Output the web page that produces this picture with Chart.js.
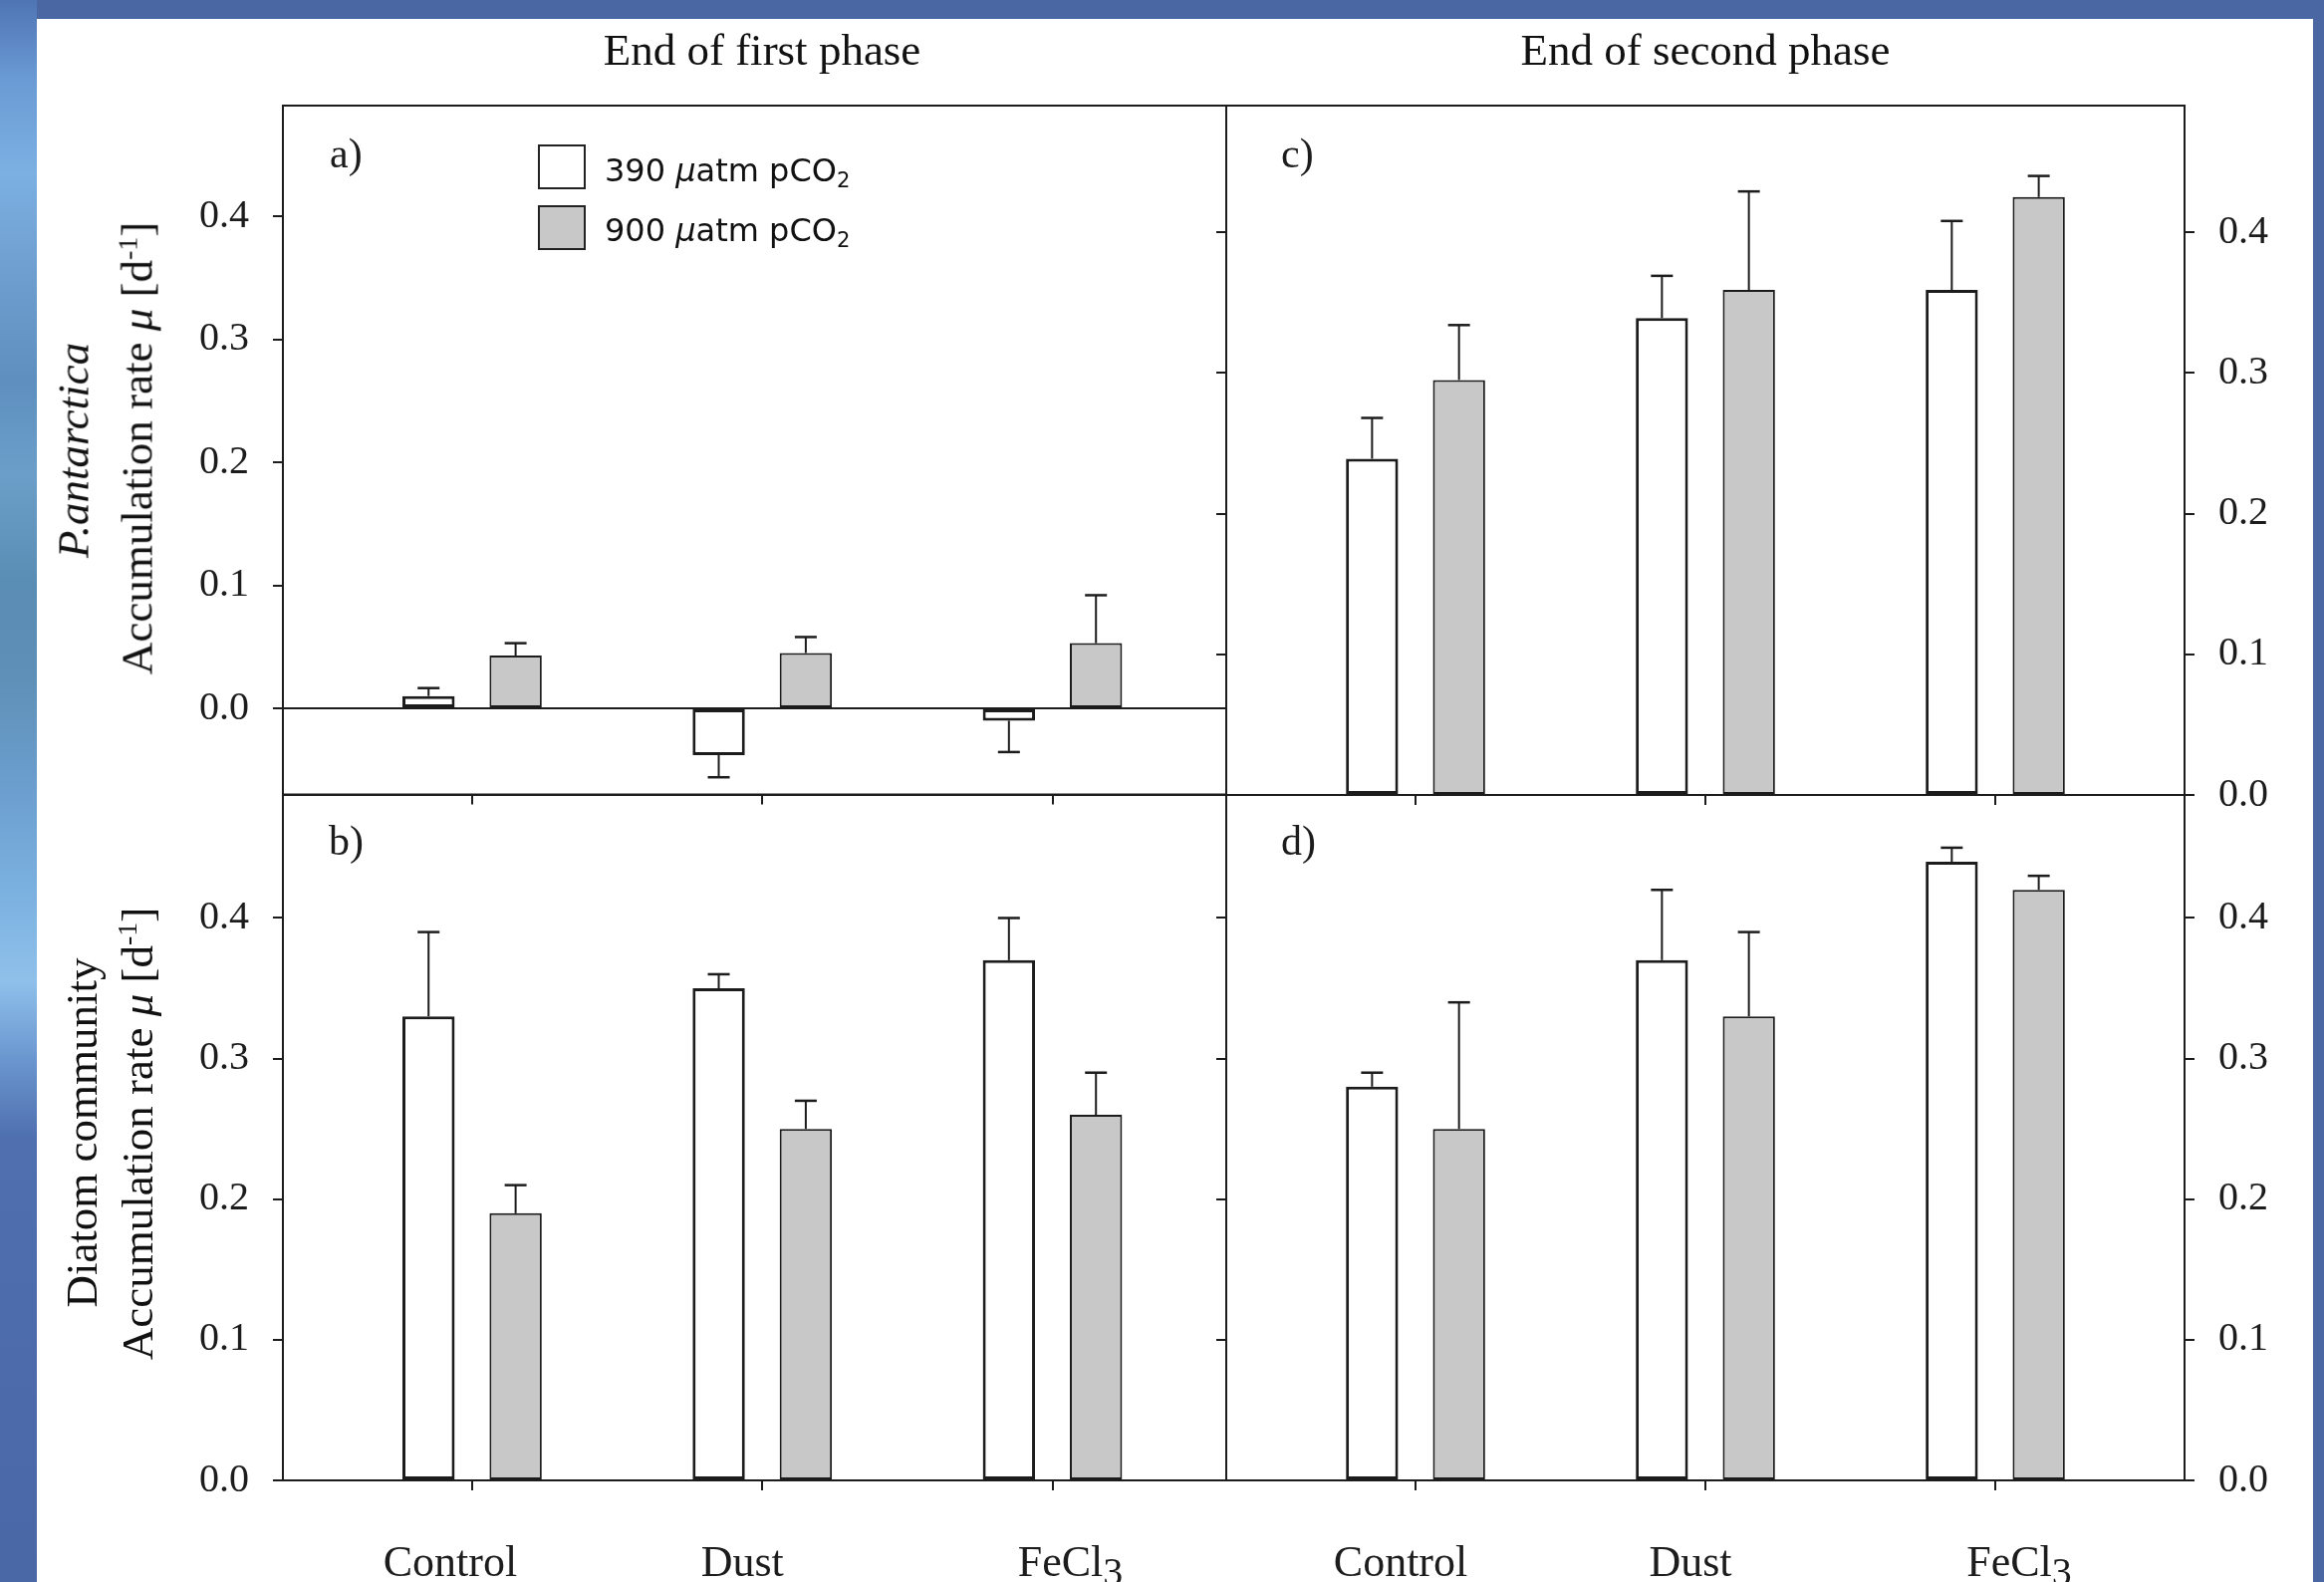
<!DOCTYPE html>
<html>
<head>
<meta charset="utf-8">
<title>Accumulation rates</title>
<script src="https://cdn.jsdelivr.net/npm/chart.js@4.4.1/dist/chart.umd.min.js"></script>
<style>
  html, body { margin: 0; padding: 0; }
  body { width: 2333px; height: 1588px; position: relative; overflow: hidden; background: #4a67a3; }
  #edge { position: absolute; left: 0; top: 0; width: 37px; height: 1588px;
    background: linear-gradient(180deg, #4f74b4 0%, #6a9bd4 5%, #7cb0e2 11%, #6f9fd0 17%, #5e8fbf 24%,
      #6b9fc9 30%, #5a8db3 37%, #5f90b8 43%, #6c9fcf 50%, #7ab0df 56%, #8fc0ea 62%, #6a96cf 67%,
      #4f6fae 72%, #4a67a6 100%); }
  #sheet { position: absolute; left: 37px; top: 19px; width: 2285px; height: 1569px; background: #fff; }
  canvas { position: absolute; left: 0; top: 0; }
  .txt { position: absolute; font-family: 'Liberation Serif', 'Times New Roman', serif; color: #111;
    white-space: nowrap; line-height: 1; }
  .head { font-size: 45px; transform: translateX(-50%); }
  .rot { font-size: 45px; transform: translate(-50%, -50%) rotate(-90deg); }
  .rot sup { font-size: 0.62em; vertical-align: 0.55em; line-height: 0; }
  .lg-box { position: absolute; left: 540px; width: 48px; height: 45px; box-sizing: border-box;
    border: 2px solid #222; }
  .lg-txt { position: absolute; left: 607px; font-family: 'DejaVu Sans', Verdana, sans-serif; font-size: 32px;
    line-height: 32px; color: #111; white-space: nowrap; }
  .lg-txt sub { font-size: 0.66em; vertical-align: -0.28em; line-height: 0; }
</style>
</head>
<body>
<div id="edge"></div>
<div id="sheet"></div>
<canvas id="pa" width="2333" height="1588"></canvas>
<canvas id="pb" width="2333" height="1588"></canvas>
<canvas id="pc" width="2333" height="1588"></canvas>
<canvas id="pd" width="2333" height="1588"></canvas>

<div class="txt head" style="left:765px;top:28px;">End of first phase</div>
<div class="txt head" style="left:1712px;top:28px;">End of second phase</div>

<div class="txt rot" style="left:74px;top:452px;font-style:italic;">P.antarctica</div>
<div class="txt rot" style="left:138px;top:450px;">Accumulation rate <i>μ</i> [d<sup>-1</sup>]</div>
<div class="txt rot" style="left:82px;top:1137px;">Diatom community</div>
<div class="txt rot" style="left:138px;top:1138px;">Accumulation rate <i>μ</i> [d<sup>-1</sup>]</div>

<div id="legend"></div>

<script>
// ---- data ---------------------------------------------------------------
const categories = ['Control', 'Dust', 'FeCl3'];
const co2Levels = [390, 900];               // µatm pCO2 of the two treatments
const yTicks = [0, 0.1, 0.2, 0.3, 0.4];

// a) P. antarctica, end of first phase
const pant1_390 = [0.010, -0.038, -0.010];
const pant1_390Err = [0.0065, 0.018, 0.0255];
const pant1_900 = [0.043, 0.045, 0.053];
const pant1_900Err = [0.010, 0.013, 0.039];

// c) P. antarctica, end of second phase
const pant2_390 = [0.239, 0.339, 0.359];
const pant2_390Err = [0.029, 0.030, 0.049];
const pant2_900 = [0.295, 0.359, 0.425];
const pant2_900Err = [0.039, 0.070, 0.015];

// b) diatom community, end of first phase
const diat1_390 = [0.33, 0.35, 0.37];
const diat1_390Err = [0.06, 0.01, 0.03];
const diat1_900 = [0.19, 0.25, 0.26];
const diat1_900Err = [0.02, 0.02, 0.03];

// d) diatom community, end of second phase
const diat2_390 = [0.28, 0.37, 0.44];
const diat2_390Err = [0.01, 0.05, 0.01];
const diat2_900 = [0.25, 0.33, 0.42];
const diat2_900Err = [0.09, 0.06, 0.01];

// ---- styling ------------------------------------------------------------
const INK = '#1c1c1c';
const SERIF = "'Liberation Serif', 'Times New Roman', serif";
const FILLS = ['#ffffff', '#c8c8c8'];
const BORDERS = [3, 2];
const PAGE_W = 2333, PAGE_H = 1588;
const Y_AXIS_W = 120, X_AXIS_H = 20, TICK = 10, CAP = 22;
const LABEL_BASELINE = 1582;

// legend built from the treatment list
document.getElementById('legend').innerHTML = co2Levels.map((ppm, k) =>
  `<div class="lg-box" style="top:${145 + k * 61}px;background:${FILLS[k]}"></div>` +
  `<div class="lg-txt" style="top:${155 + k * 60}px">${ppm} <i>μ</i>atm pCO<sub>2</sub></div>`
).join('');

const panels = [
  { canvas: 'pa', tag: 'a)', values: [pant1_390, pant1_900], errors: [pant1_390Err, pant1_900Err],
    yMin: -0.07, yMax: 0.49, xMin: -0.652, xMax: 2.599, box: [284, 106, 1231, 797.5],
    side: 'left', zeroLine: true, tagAt: [47, 62], labelShift: null },
  { canvas: 'pb', tag: 'b)', values: [diat1_390, diat1_900], errors: [diat1_390Err, diat1_900Err],
    yMin: 0, yMax: 0.4875, xMin: -0.652, xMax: 2.599, box: [284, 798, 1231, 1486],
    side: 'left', zeroLine: false, tagAt: [46, 60], labelShift: [-22, -20, 18] },
  { canvas: 'pc', tag: 'c)', values: [pant2_390, pant2_900], errors: [pant2_390Err, pant2_900Err],
    yMin: 0, yMax: 0.49, xMin: -0.653, xMax: 2.653, box: [1231, 106, 2193, 798],
    side: 'right', zeroLine: false, tagAt: [55, 62], labelShift: null },
  { canvas: 'pd', tag: 'd)', values: [diat2_390, diat2_900], errors: [diat2_390Err, diat2_900Err],
    yMin: 0, yMax: 0.4875, xMin: -0.653, xMax: 2.653, box: [1231, 798, 2193, 1486],
    side: 'right', zeroLine: false, tagAt: [55, 60], labelShift: [-15, -15, 24] }
];

// category text with a trailing number set as a subscript (FeCl3)
function drawCategory(ctx, text, cx, baseline) {
  const m = text.match(/^(.*?)(\d+)$/);
  const main = m ? m[1] : text, sub = m ? m[2] : '';
  ctx.font = `44px ${SERIF}`;
  const wMain = ctx.measureText(main).width;
  ctx.font = `40px ${SERIF}`;
  const wSub = sub ? ctx.measureText(sub).width : 0;
  const x0 = cx - (wMain + wSub) / 2;
  ctx.textAlign = 'left';
  ctx.textBaseline = 'alphabetic';
  ctx.font = `44px ${SERIF}`;
  ctx.fillText(main, x0, baseline);
  if (sub) {
    ctx.font = `40px ${SERIF}`;
    ctx.fillText(sub, x0 + wMain, baseline + 9);
  }
}

// error bars, panel frame, panel tag and category names
const panelDecor = {
  id: 'panelDecor',
  afterDatasetsDraw(chart, args, opts) {
    const ctx = chart.ctx, ca = chart.chartArea;
    const ys = chart.scales.y, xs = chart.scales.x;
    ctx.save();
    ctx.strokeStyle = INK;
    ctx.fillStyle = INK;
    chart.data.datasets.forEach((ds, di) => {
      const meta = chart.getDatasetMeta(di);
      meta.data.forEach((bar, i) => {
        const v = ds.data[i].y, e = ds.errors[i];
        const end = v + (v < 0 ? -e : e);
        const y0 = ys.getPixelForValue(v), y1 = ys.getPixelForValue(end);
        ctx.lineWidth = 2;
        ctx.beginPath(); ctx.moveTo(bar.x, y0); ctx.lineTo(bar.x, y1); ctx.stroke();
        ctx.lineWidth = 2.5;
        ctx.beginPath(); ctx.moveTo(bar.x - CAP / 2, y1); ctx.lineTo(bar.x + CAP / 2, y1); ctx.stroke();
      });
    });
    ctx.lineWidth = 2;
    ctx.strokeRect(ca.left, ca.top, ca.right - ca.left, ca.bottom - ca.top);
    ctx.font = `42px ${SERIF}`;
    ctx.textAlign = 'left';
    ctx.textBaseline = 'alphabetic';
    ctx.fillText(opts.tag, ca.left + opts.tagAt[0], ca.top + opts.tagAt[1]);
    if (opts.labelShift) {
      categories.forEach((c, i) => drawCategory(ctx, c, xs.getPixelForValue(i) + opts.labelShift[i], LABEL_BASELINE));
    }
    ctx.restore();
  }
};

function yScale(p, position, showLabels) {
  return {
    type: 'linear', position, min: p.yMin, max: p.yMax,
    afterBuildTicks: s => { s.ticks = yTicks.map(v => ({ value: v })); },
    afterFit: s => { s.width = showLabels ? Y_AXIS_W : TICK; },
    border: { display: false },
    grid: {
      drawOnChartArea: showLabels && p.zeroLine,
      color: ctx => (p.zeroLine && ctx.tick && ctx.tick.value === 0) ? INK : 'rgba(0,0,0,0)',
      tickColor: INK, tickLength: TICK, lineWidth: 2
    },
    ticks: {
      display: showLabels, padding: 24, color: INK,
      font: { family: SERIF, size: 40 },
      callback: v => Number(v).toFixed(1)
    }
  };
}

function makePanel(p) {
  const [L, T, R, B] = p.box;
  const scales = {
    x: {
      type: 'linear', position: 'bottom', min: p.xMin, max: p.xMax,
      offset: false,
      afterBuildTicks: s => { s.ticks = categories.map((c, i) => ({ value: i })); },
      afterFit: s => { s.height = X_AXIS_H; },
      border: { display: false },
      grid: { offset: false, drawOnChartArea: false, color: INK, tickLength: TICK, lineWidth: 2 },
      ticks: { display: false }
    },
    y: yScale(p, p.side, true)
  };
  if (p.side === 'right') scales.yl = yScale(p, 'left', false);
  const padding = {
    top: T,
    bottom: PAGE_H - B - X_AXIS_H,
    left: p.side === 'left' ? L - Y_AXIS_W : L - TICK,
    right: p.side === 'left' ? PAGE_W - R : PAGE_W - R - Y_AXIS_W
  };
  new Chart(document.getElementById(p.canvas), {
    type: 'bar',
    data: {
      datasets: p.values.map((vals, k) => ({
        label: `${co2Levels[k]} µatm pCO2`,
        data: vals.map((y, i) => ({ x: i, y })),
        errors: p.errors[k],
        backgroundColor: FILLS[k],
        borderColor: INK,
        borderWidth: BORDERS[k],
        borderSkipped: false,
        categoryPercentage: 0.6,
        barPercentage: 0.6
      }))
    },
    options: {
      responsive: false,
      animation: false,
      devicePixelRatio: 1,
      layout: { padding },
      scales,
      plugins: {
        legend: { display: false },
        tooltip: { enabled: false },
        panelDecor: { tag: p.tag, tagAt: p.tagAt, labelShift: p.labelShift }
      }
    },
    plugins: [panelDecor]
  });
}

panels.forEach(makePanel);
</script>
</body>
</html>
